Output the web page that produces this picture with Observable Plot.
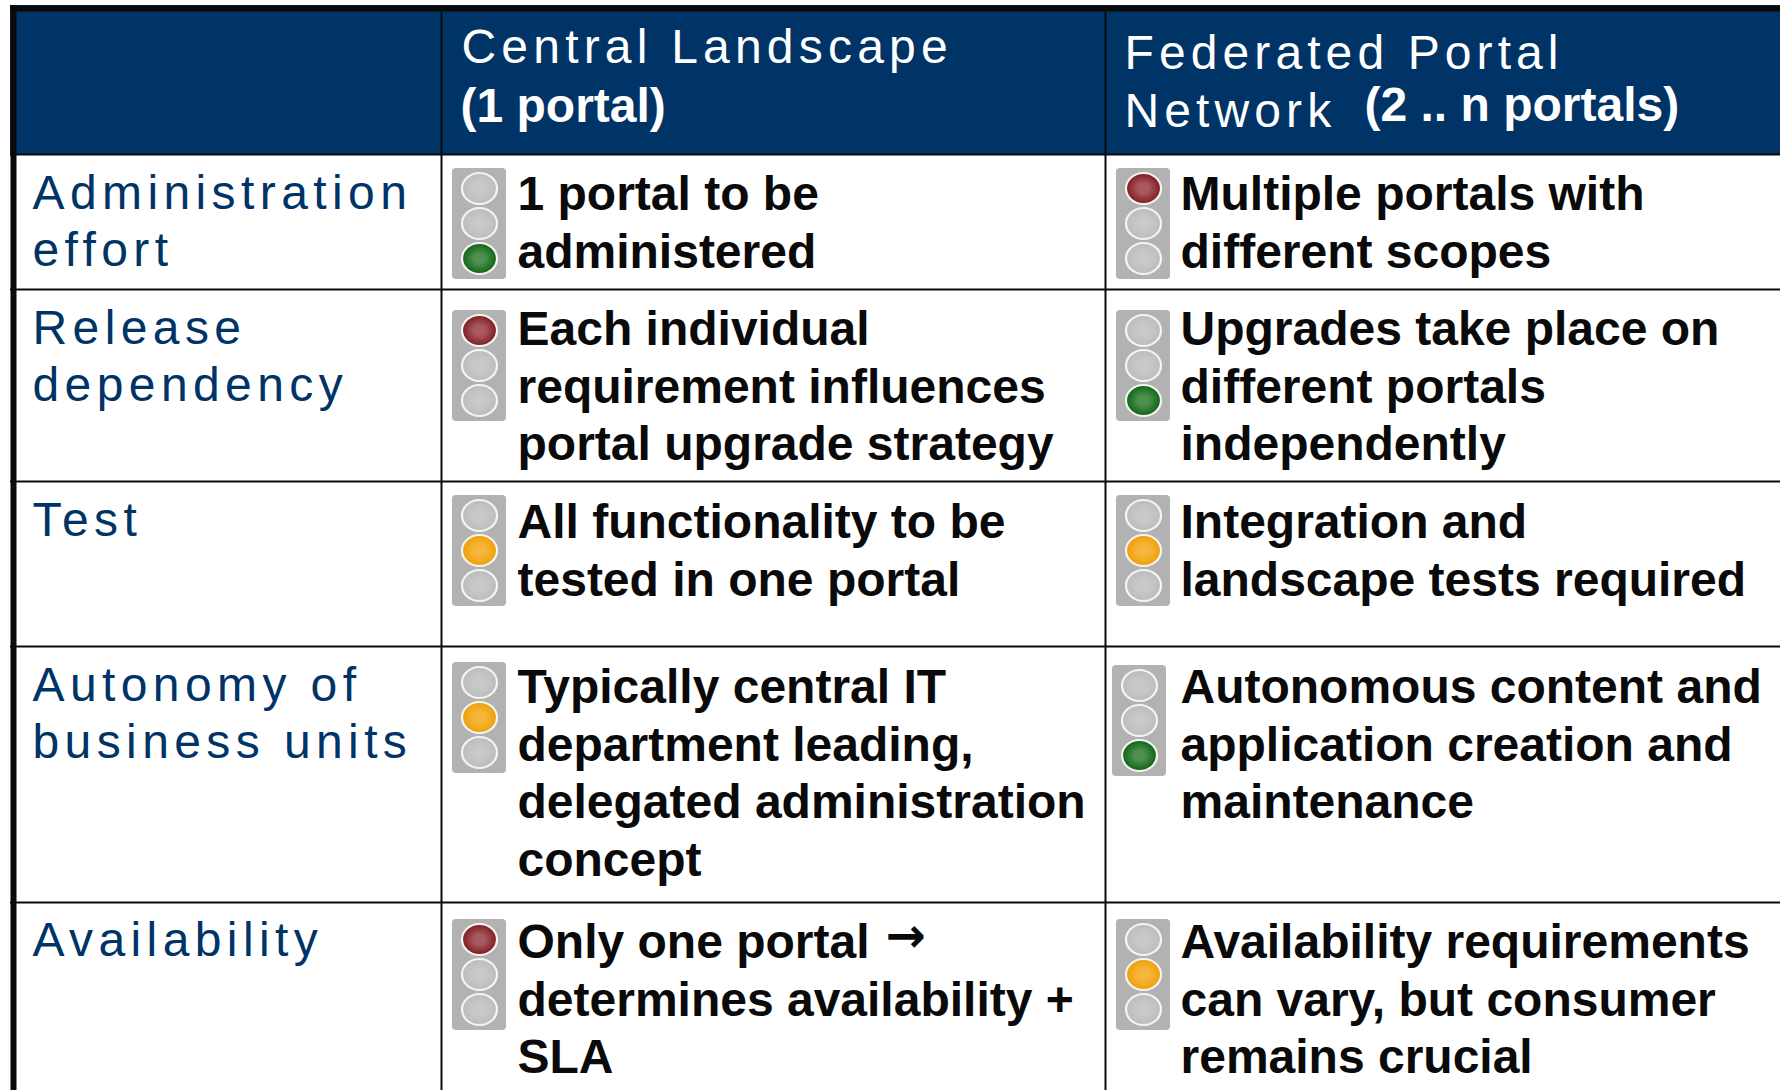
<!DOCTYPE html>
<html>
<head>
<meta charset="utf-8">
<script src="https://cdn.jsdelivr.net/npm/d3@7"></script>
<script src="https://cdn.jsdelivr.net/npm/@observablehq/plot@0.6"></script>
<style>
  html, body { margin: 0; padding: 0; background: #fff; }
</style>
</head>
<body>
<div id="chart"></div>
<script>
// ---- table content ----
const criteria = ["Administration\neffort", "Release\ndependency", "Test", "Autonomy of\nbusiness units", "Availability"];
const centralText = [
  "1 portal to be\nadministered",
  "Each individual\nrequirement influences\nportal upgrade strategy",
  "All functionality to be\ntested in one portal",
  "Typically central IT\ndepartment leading,\ndelegated administration\nconcept",
  "Only one portal\ndetermines availability +\nSLA"
];
const federatedText = [
  "Multiple portals with\ndifferent scopes",
  "Upgrades take place on\ndifferent portals\nindependently",
  "Integration and\nlandscape tests required",
  "Autonomous content and\napplication creation and\nmaintenance",
  "Availability requirements\ncan vary, but consumer\nremains crucial"
];
const arrowGlyph = ["\u2192"];
const centralStatus = ["green", "red", "amber", "amber", "red"];
const federatedStatus = ["red", "green", "amber", "green", "amber"];

// ---- table geometry (layout only) ----
const W = 1780, H = 1090;
const rowLines = [154, 289, 481, 646, 902];
const colLines = [441, 1105];
const labelX = 32, centralTextX = 517, federatedTextX = 1180;
const rowTextTop = [169, 304, 497, 662, 917];
const rowLabelTop = [168, 303, 495, 660, 915];
const centralLampTop = [168, 310, 495, 662, 919];
const federatedLampTop = [168, 310, 495, 665, 919];
const centralLampX = [479, 479, 479, 479, 479];
const federatedLampX = [1143, 1143, 1143, 1139, 1143];
const lampSlots = ["red", "amber", "green"];
const lampW = 54, lampH = 111;

const body = [];
criteria.forEach((c, i) => {
  body.push({text: centralText[i], x: centralTextX, y: rowTextTop[i]});
  body.push({text: federatedText[i], x: federatedTextX, y: rowTextTop[i]});
});
const housings = [], lamps = [];
[[centralStatus, centralLampX, centralLampTop], [federatedStatus, federatedLampX, federatedLampTop]].forEach(([status, xs, tops]) => {
  status.forEach((s, i) => {
    housings.push({x1: xs[i] - lampW / 2, x2: xs[i] + lampW / 2, y1: tops[i], y2: tops[i] + lampH});
    lampSlots.forEach((slot, k) => {
      lamps.push({x: xs[i], y: tops[i] + 20 + 35 * k, on: slot === s ? slot : "off"});
    });
  });
});

const ellipse = {
  draw(ctx) {
    const rx = 17.5, ry = 15.5, c = 0.5523;
    ctx.moveTo(-rx, 0);
    ctx.bezierCurveTo(-rx, -c * ry, -c * rx, -ry, 0, -ry);
    ctx.bezierCurveTo(c * rx, -ry, rx, -c * ry, rx, 0);
    ctx.bezierCurveTo(rx, c * ry, c * rx, ry, 0, ry);
    ctx.bezierCurveTo(-c * rx, ry, -rx, c * ry, -rx, 0);
    ctx.closePath();
  }
};

const gradients = {
  red: ["#a85a5e", "#7f1a20"],
  amber: ["#f6b63c", "#ee9f06"],
  green: ["#4f9050", "#0c6412"],
  off: ["#c9c9c9", "#bcbcbc"]
};
function defs() {
  const d = d3.create("svg:defs");
  Object.entries(gradients).forEach(([k, [a, b]]) => {
    const g = d.append("radialGradient").attr("id", "lamp-" + k);
    g.append("stop").attr("offset", "30%").attr("stop-color", a);
    g.append("stop").attr("offset", "100%").attr("stop-color", b);
  });
  return d.node();
}

const spaced = (px) => function (index, scales, values, dimensions, context, next) {
  const g = next(index, scales, values, dimensions, context);
  g.style.letterSpacing = px + "px";
  return g;
};

const sans = "'Liberation Sans', Arial, sans-serif";
const ink = "#0a0a0a", navy = "#003366";

const chart = Plot.plot({
  width: W, height: H,
  marginTop: 0, marginRight: 0, marginBottom: 0, marginLeft: 0,
  style: {background: "#fff", fontFamily: sans},
  x: {domain: [0, W], range: [0, W], axis: null},
  y: {domain: [0, H], range: [0, H], axis: null},
  color: {type: "identity"},
  marks: [
    defs,
    Plot.rect([{x1: 10, x2: W, y1: 5, y2: rowLines[0]}], {x1: "x1", x2: "x2", y1: "y1", y2: "y2", fill: navy}),
    Plot.ruleX(colLines, {y1: 5, y2: H, stroke: "#0a0a0a", strokeWidth: 2}),
    Plot.ruleY(rowLines, {x1: 10, x2: W, stroke: "#0a0a0a", strokeWidth: 2}),
    Plot.ruleX([13], {y1: 5, y2: H, stroke: "#0a0a0a", strokeWidth: 6}),
    Plot.ruleY([8], {x1: 10, x2: W, stroke: "#0a0a0a", strokeWidth: 6}),
    Plot.rect(housings, {x1: "x1", x2: "x2", y1: "y1", y2: "y2", fill: "#b2b2b2", rx: 4}),
    Plot.dot(lamps, {x: "x", y: "y", symbol: ellipse, fill: d => `url(#lamp-${d.on})`, stroke: "#f4f4f4", strokeWidth: 2.2}),
    Plot.text(criteria.map((t, i) => ({t, y: rowLabelTop[i]})), {
      x: labelX, y: "y", text: "t", textAnchor: "start", lineAnchor: "top",
      fontSize: 48, lineHeight: 1.19, fill: navy, render: spaced(5.4)
    }),
    Plot.text(["Central Landscape"], {
      x: 461, y: 28, text: d => d, textAnchor: "start", lineAnchor: "top", fontSize: 48, fill: "#fff", render: spaced(5.2)
    }),
    Plot.text(["Federated Portal\nNetwork"], {
      x: 1124, y: 28, text: d => d, textAnchor: "start", lineAnchor: "top", fontSize: 48, lineHeight: 1.2, fill: "#fff", render: spaced(5.1)
    }),
    Plot.text(["(1 portal)"], {
      x: 460, y: 87, text: d => d, textAnchor: "start", lineAnchor: "top", fontSize: 48, fontWeight: "bold", fill: "#fff"
    }),
    Plot.text(["(2 .. n portals)"], {
      x: 1364, y: 86, text: d => d, textAnchor: "start", lineAnchor: "top", fontSize: 48, fontWeight: "bold", fill: "#fff"
    }),
    Plot.text(body, {
      x: "x", y: "y", text: "text", textAnchor: "start", lineAnchor: "top",
      fontSize: 48, fontWeight: "bold", lineHeight: 1.198, fill: ink
    }),
    Plot.text(arrowGlyph, {
      x: 885, y: rowTextTop[4], text: d => d, textAnchor: "start", lineAnchor: "top",
      fontSize: 48, fontWeight: "bold", fontFamily: "'DejaVu Sans'", fill: ink
    })
  ]
});
document.getElementById("chart").append(chart);
</script>
</body>
</html>
